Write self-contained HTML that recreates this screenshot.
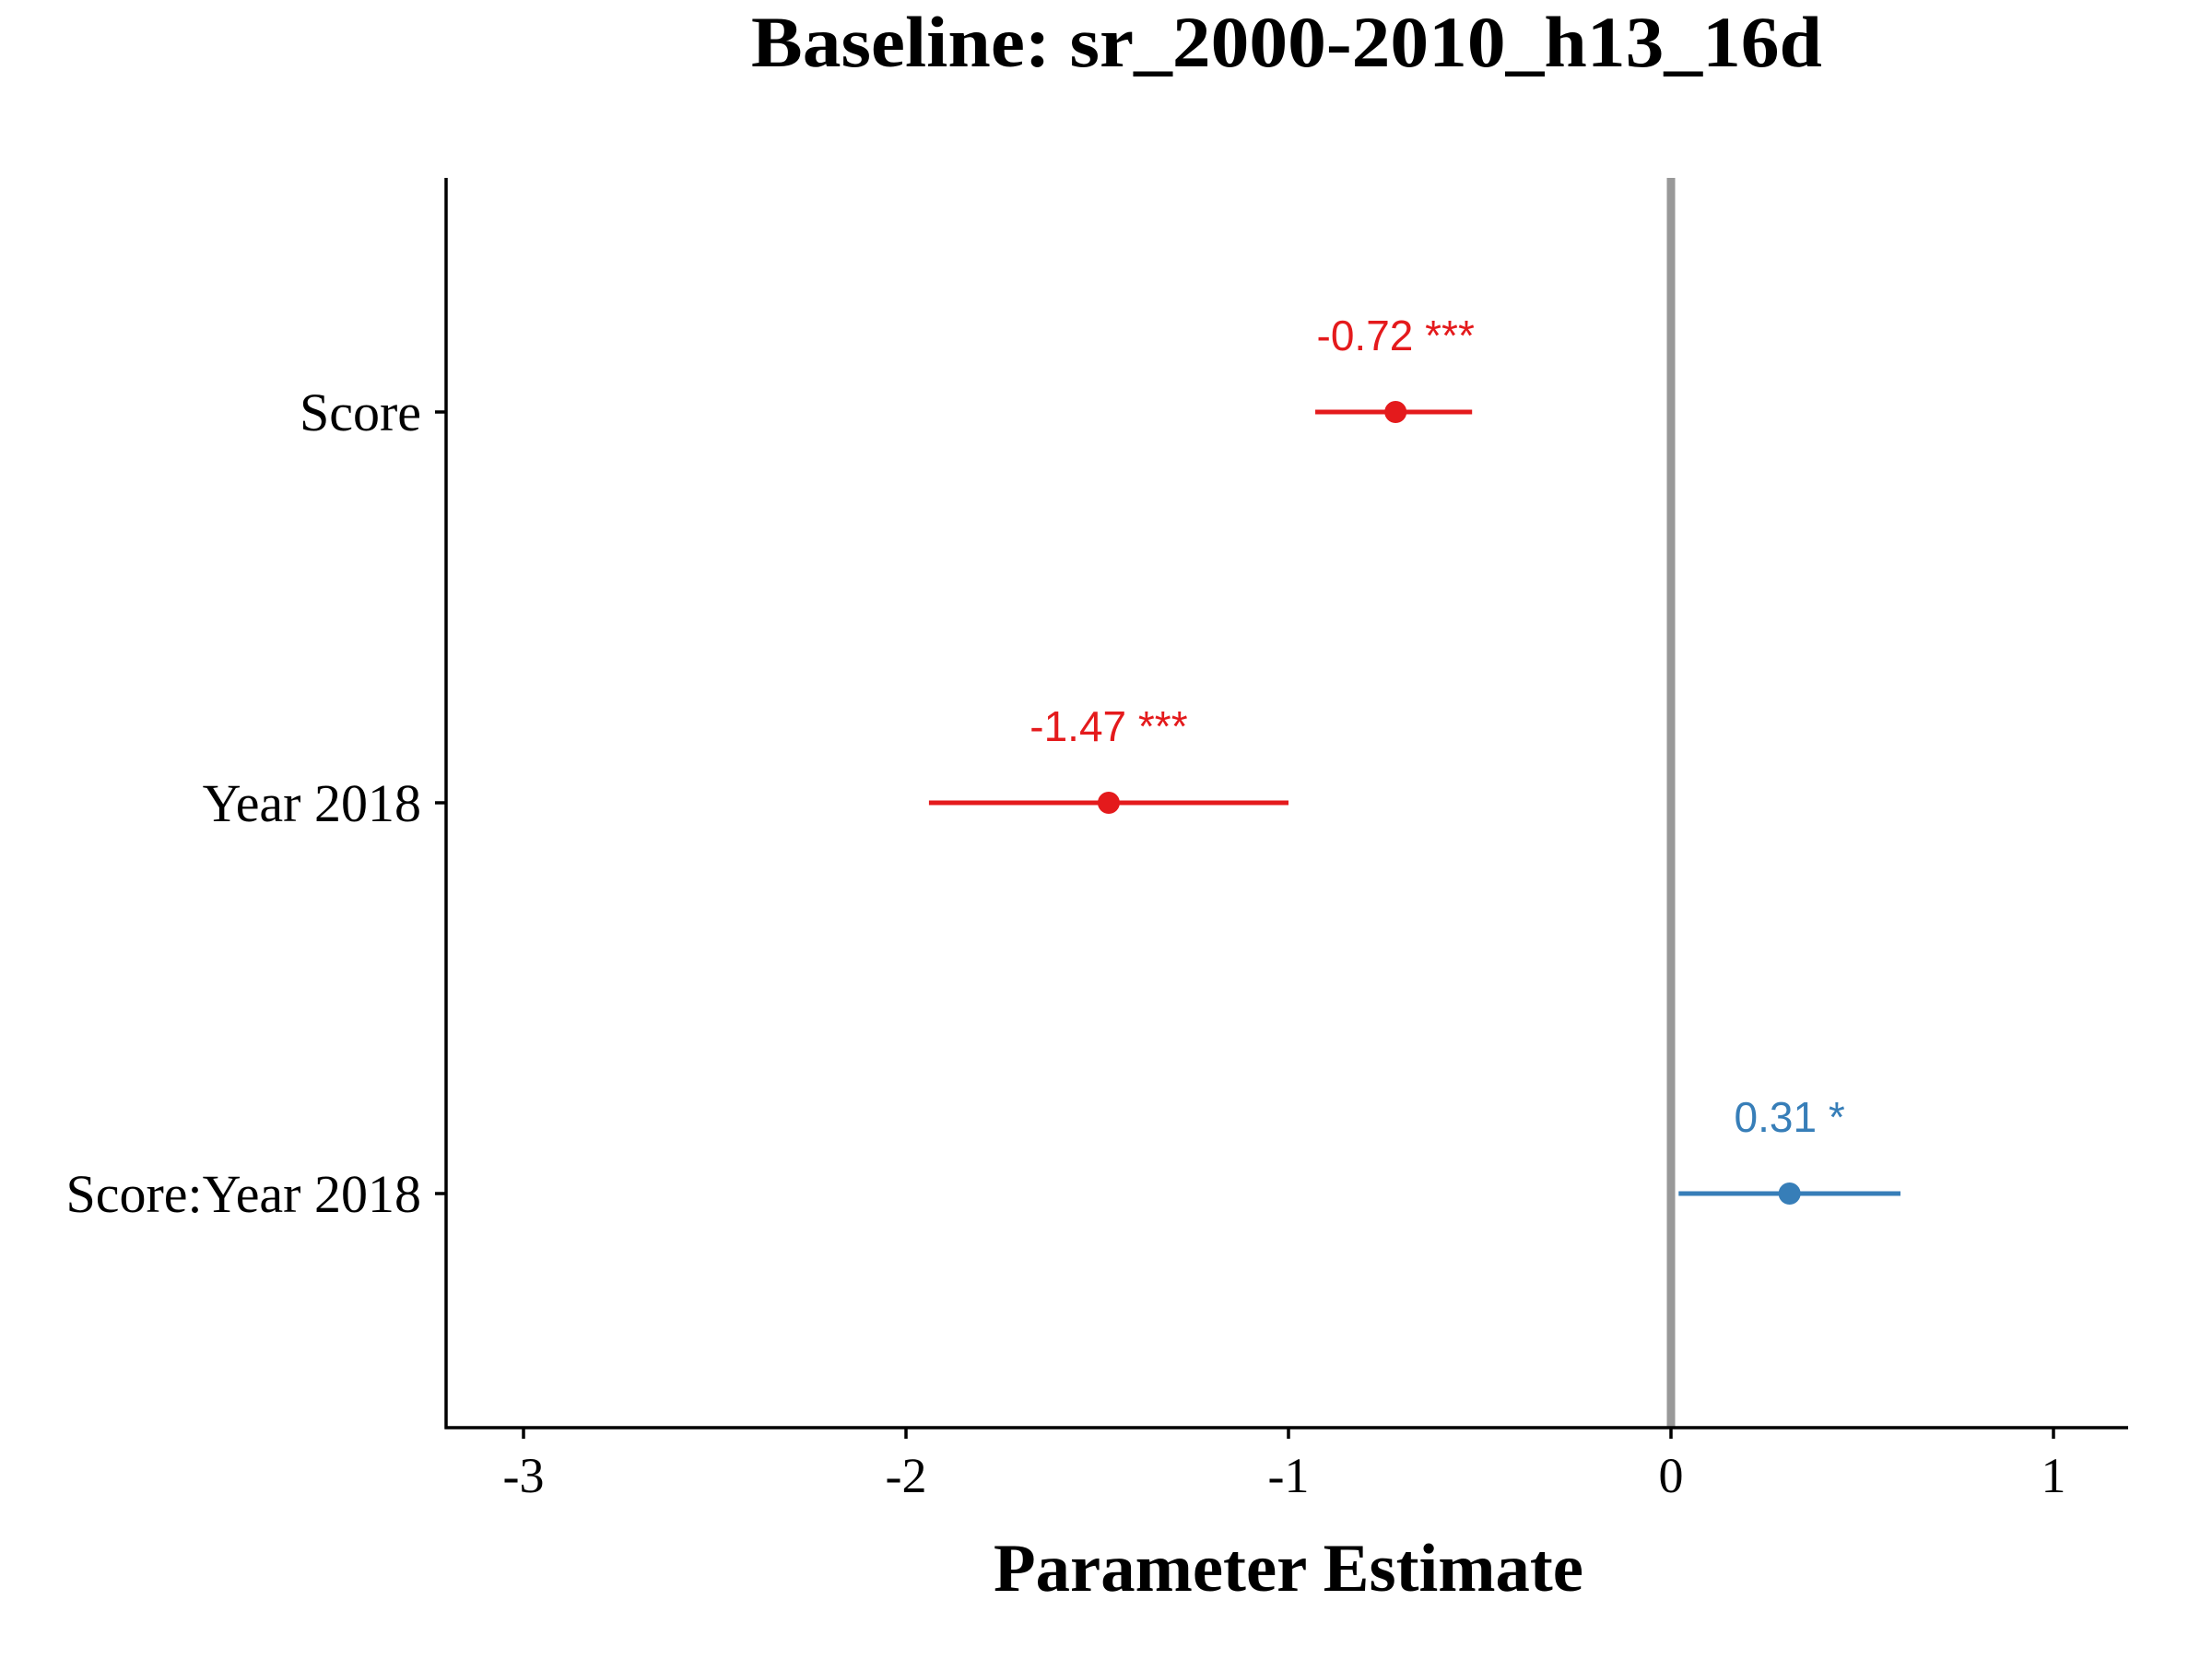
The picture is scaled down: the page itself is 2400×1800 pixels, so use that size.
<!DOCTYPE html>
<html><head><meta charset="utf-8"><style>html,body{margin:0;padding:0;background:#fff}svg{display:block}</style></head>
<body>
<svg id="chart" width="2400" height="1800" viewBox="0 0 2400 1800" xmlns="http://www.w3.org/2000/svg">
<text x="1396" y="72" text-anchor="middle" font-family="Liberation Serif, serif" font-weight="bold" font-size="78" textLength="1162" lengthAdjust="spacingAndGlyphs">Baseline: sr_2000-2010_h13_16d</text>
<g id="plot"></g>
<text x="1398" y="1726" text-anchor="middle" font-family="Liberation Serif, serif" font-weight="bold" font-size="74" textLength="640" lengthAdjust="spacingAndGlyphs">Parameter Estimate</text>
</svg>
<script>
const categories = ["Score", "Year 2018", "Score:Year 2018"];
const estimates = [-0.72, -1.47, 0.31];
const lowerCI = [-0.93, -1.94, 0.02];
const upperCI = [-0.52, -1.00, 0.60];
const labels = ["-0.72 ***", "-1.47 ***", "0.31 *"];
const seriesColors = ["#E41A1C", "#E41A1C", "#377EB8"];
const xTicks = [-3, -2, -1, 0, 1];
const xTickLabels = ["-3", "-2", "-1", "0", "1"];

const NS = "http://www.w3.org/2000/svg";
const plotG = document.getElementById("plot");
const plotLeft = 484, plotRight = 2309, plotTop = 193, plotBottom = 1549;
const xScale = v => 1813 + v * 415;
const yScale = i => 447 + i * 424;
function mk(tag, attrs) { const e = document.createElementNS(NS, tag); for (const k in attrs) e.setAttribute(k, attrs[k]); plotG.appendChild(e); return e; }

let el = mk("line", {x1: xScale(0), x2: xScale(0), y1: plotTop, y2: plotBottom, stroke: "#999", "stroke-width": 9});


el = mk("line", {x1: plotLeft, x2: plotLeft, y1: plotTop, y2: plotBottom + 1.5, stroke: "#000", "stroke-width": 3.5});


el = mk("line", {x1: plotLeft - 1.5, x2: plotRight, y1: plotBottom, y2: plotBottom, stroke: "#000", "stroke-width": 3.5});



xTicks.forEach((t, i) => {
  let tk = mk("line", {x1: xScale(t), x2: xScale(t), y1: plotBottom, y2: plotBottom + 12, stroke: "#000", "stroke-width": 3.5});
  
  
  let tl = mk("text", {x: xScale(t), y: plotBottom + 70, "text-anchor": "middle", "font-family": "Liberation Serif, serif", "font-size": 54});
  tl.textContent = xTickLabels[i];
  
  
});

categories.forEach((c, i) => {
  const y = yScale(i);
  let tk = mk("line", {x1: plotLeft - 12, x2: plotLeft, y1: y, y2: y, stroke: "#000", "stroke-width": 3.5});
  
  
  let tl = mk("text", {x: plotLeft - 27, y: y + 20, "text-anchor": "end", "font-family": "Liberation Serif, serif", "font-size": 58});
  tl.textContent = c;
  
  
  let ci = mk("line", {x1: xScale(lowerCI[i]), x2: xScale(upperCI[i]), y1: y, y2: y, stroke: seriesColors[i], "stroke-width": 5});
  
  
  let pt = mk("circle", {cx: xScale(estimates[i]), cy: y, r: 12, fill: seriesColors[i]});
  
  
  let lb = mk("text", {x: xScale(estimates[i]), y: y - 67, "text-anchor": "middle", "font-family": "Liberation Sans, sans-serif", "font-size": 46, fill: seriesColors[i]});
  lb.textContent = labels[i];
  
  
});
</script>
</body></html>
